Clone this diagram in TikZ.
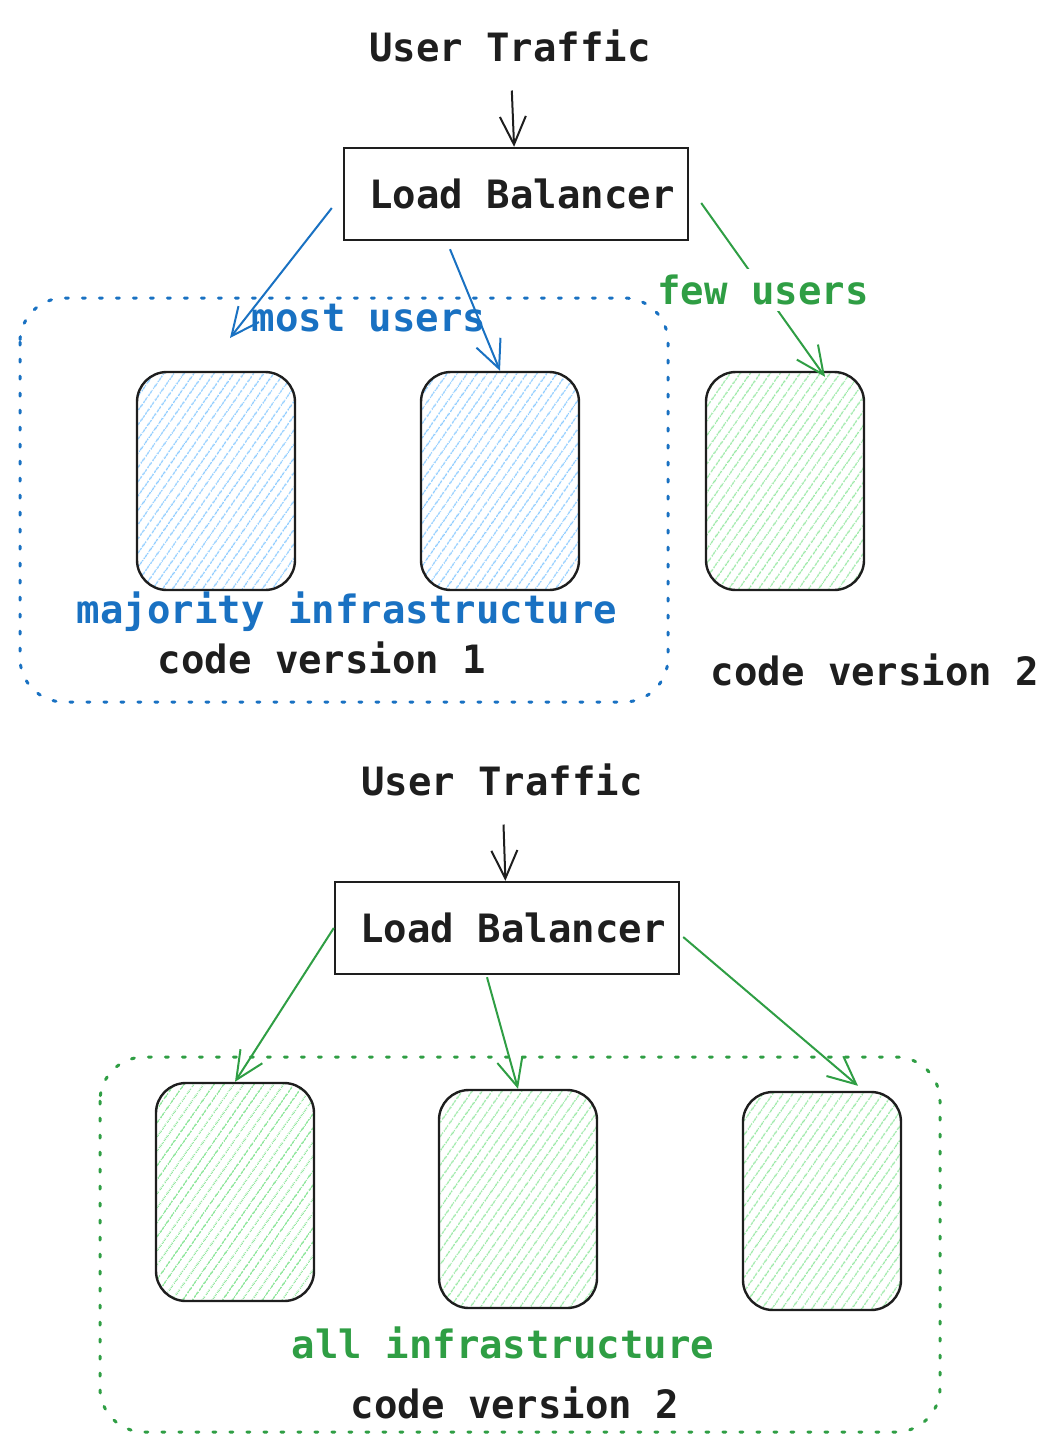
\documentclass[tikz,border=0pt]{standalone}
\usepackage{fontspec}
\setmonofont{DejaVu Sans Mono}
\usetikzlibrary{arrows.meta,positioning,calc,patterns.meta}
\definecolor{myblack}{HTML}{1E1E1E}
\definecolor{myblue}{HTML}{1971C2}
\definecolor{mygreen}{HTML}{2F9E44}
\definecolor{hatchblue}{HTML}{8CCBFF}
\definecolor{hatchgreen}{HTML}{98E8A4}
\tikzset{
    txt/.style     = {font=\ttfamily\bfseries\fontsize{19.5pt}{23pt}\selectfont,
            text=myblack, inner sep=0pt},
    lbbox/.style   = {txt, draw=myblack, line width=1.2pt,
            minimum width=172pt, minimum height=46pt},
    server/.style  = {draw=myblack, line width=1.2pt, rounded corners=15pt,
            minimum width=79pt, minimum height=109pt},
    serverB/.style = {server, pattern={Lines[angle=55,distance=4pt,line width=0.6pt]},
            pattern color=hatchblue},
    serverG/.style = {server, pattern={Lines[angle=55,distance=4pt,line width=0.6pt]},
            pattern color=hatchgreen},
    line/.style    = {-{Straight Barb[length=14pt,width=13pt]}, line width=1pt},
    group/.style   = {line width=1.5pt, dash pattern=on 1.5pt off 7pt,
            line cap=round, rounded corners=22pt},
}
\begin{document}
\begin{tikzpicture}[x=0.5pt, y=-0.5pt]
    \useasboundingbox (0,0) rectangle (1059,1452);
    % Canary: few users on version 2
    \begin{scope}
        % Nodes
        \node[txt] (traffic1) at (510,46) {User Traffic};
        \node[lbbox] (lb1) at (516,194) {\hspace{6pt}Load Balancer};
        \node[serverB] (v1a) at (216,481) {};
        \node[serverB] (v1b) at (500,481) {};
        \node[serverG] (v2a) at (785,481) {};
        \node[txt, text=myblue] (most) at (369,318) {most users};
        \node[txt, text=myblue] (major) at (347,612) {majority infrastructure};
        \node[txt] (cv1) at (322,658) {code version 1};
        \node[txt] (cv2a) at (875,670) {code version 2};
        \draw[group, myblue] (20,298) rectangle (668,702);
        % Arrows
        \coordinate (tip1) at (230,338);
        \draw[line, myblack, shorten <=14pt] (traffic1) -- (lb1);
        \draw[line, myblue] ($(lb1.west)+(-11,14)$) -- (tip1);
        \draw[line, myblue] ($(lb1.south)+(-66,8)$) -- (v1b.north);
        \draw[line, mygreen] ($(lb1.east)+(12,9)$) -- node[txt, text=mygreen, fill=white, inner sep=3pt]{few users}
            ($(v2a.north)+(40,6)$);
    \end{scope}
    % Full rollout: all on version 2
    \begin{scope}
        % Nodes
        \node[txt] (traffic2) at (502,780) {User Traffic};
        \node[lbbox] (lb2) at (507,928) {\hspace{6pt}Load Balancer};
        \node[serverG] (v2b) at (235,1192) {};
        \node[serverG] (v2c) at (518,1199) {};
        \node[serverG] (v2d) at (822,1201) {};
        \node[txt, text=mygreen] (all) at (503,1343) {all infrastructure};
        \node[txt] (cv2b) at (515,1403) {code version 2};
        \draw[group, mygreen] (100,1057) rectangle (940,1432);
        % Arrows
        \draw[line, myblack, shorten <=14pt] (traffic2) -- (lb2);
        \draw[line, mygreen] (lb2.west) -- (v2b.north);
        \draw[line, mygreen] ($(lb2.south)+(-20,2)$) -- (v2c.north);
        \draw[line, mygreen] ($(lb2.east)+(3,9)$) -- ($(v2d.north)+(36,-5)$);
    \end{scope}
\end{tikzpicture}
\end{document}
